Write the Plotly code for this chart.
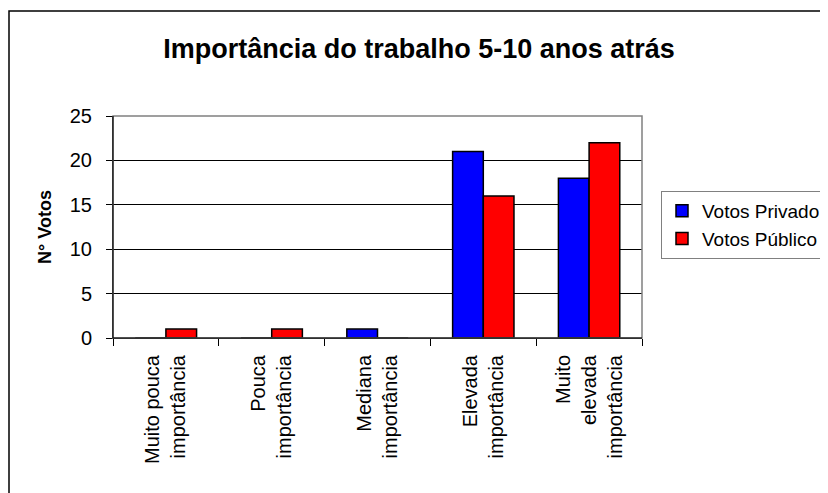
import plotly.graph_objects as go

categories = [
    "Muito pouca<br>importância",
    "Pouca<br>importância",
    "Mediana<br>importância",
    "Elevada<br>importância",
    "Muito<br>elevada<br>importância",
]
votos_privado = [0, 0, 1, 21, 18]
votos_publico = [1, 1, 0, 16, 22]
series_names = ["Votos Privado", "Votos Público"]
y_ticks = [0, 5, 10, 15, 20, 25]

FONT = "Liberation Sans, Arial, sans-serif"

fig = go.Figure()
fig.add_trace(go.Bar(name=series_names[0], x=categories, y=votos_privado,
                     marker=dict(color="#0000FF", line=dict(color="#000000", width=1.5))))
fig.add_trace(go.Bar(name=series_names[1], x=categories, y=votos_publico,
                     marker=dict(color="#FF0000", line=dict(color="#000000", width=1.5))))

# The page has an 8px body margin, so the figure is offset by (8, 8).
OFF = 8
W, H = 828 - OFF, 493 - OFF
# plot area in page pixels: x 113..642, y 116..338
L, R, T, B = 113 - OFF, 828 - 642, 116 - OFF, 493 - 338
pw, ph = W - L - R, H - T - B

fig.update_layout(
    width=W, height=H,
    margin=dict(l=L, r=R, t=T, b=B, autoexpand=False),
    paper_bgcolor="white", plot_bgcolor="white",
    barmode="group", bargap=0.42, bargroupgap=0,
    font=dict(family=FONT, color="black", size=19),
    title=dict(text="<b>Importância do trabalho 5-10 anos atrás</b>",
               font=dict(family=FONT, size=27, color="black"),
               x=(419 - OFF) / W, xanchor="center", xref="container",
               y=1 - (49 - OFF) / H, yanchor="middle", yref="container"),
    legend=dict(x=(661 - 113) / pw, xanchor="left", y=(338 - 191) / ph, yanchor="top",
                bgcolor="white", bordercolor="#808080", borderwidth=1,
                font=dict(family=FONT, size=19, color="black"),
                itemwidth=30, tracegroupgap=0),
    showlegend=True,
)

fig.update_xaxes(
    type="category", showline=True, linecolor="black", linewidth=1,
    ticks="outside", tickson="boundaries", ticklen=7, tickcolor="black",
    tickangle=-90, tickfont=dict(family=FONT, size=20, color="black"),
    ticklabelstandoff=8, showgrid=False, zeroline=False,
)
fig.update_yaxes(
    range=[0, 25], tickvals=y_ticks, showline=True, linecolor="black", linewidth=1,
    ticks="outside", ticklen=6, tickcolor="black",
    tickfont=dict(family=FONT, size=20, color="black"), ticklabelstandoff=10,
    showgrid=True, gridcolor="black", gridwidth=1, zeroline=False,
    title=dict(text="<b>N° Votos</b>", font=dict(family=FONT, size=18, color="black"),
               standoff=13),
)

# plot-area border (gray top and right)
fig.add_shape(type="rect", xref="paper", yref="paper", x0=0, x1=1, y0=0, y1=1,
              line=dict(color="#808080", width=1.5), layer="above")
# bottom and left axis lines in black above the border
fig.add_shape(type="line", xref="paper", yref="paper", x0=0, x1=1, y0=0, y1=0,
              line=dict(color="black", width=1), layer="above")
fig.add_shape(type="line", xref="paper", yref="paper", x0=0, x1=0, y0=0, y1=1,
              line=dict(color="black", width=1), layer="above")
# outer chart border (page x=8, y=11; extends past the window on right and bottom)
fig.add_shape(type="rect", xref="paper", yref="paper",
              x0=(8 - 113 + 1) / pw, x1=(828 + 20 - 113) / pw,
              y0=(338 - (493 + 20)) / ph, y1=(338 - 11) / ph,
              line=dict(color="black", width=1.5), layer="above")

fig.write_html("out.html")
